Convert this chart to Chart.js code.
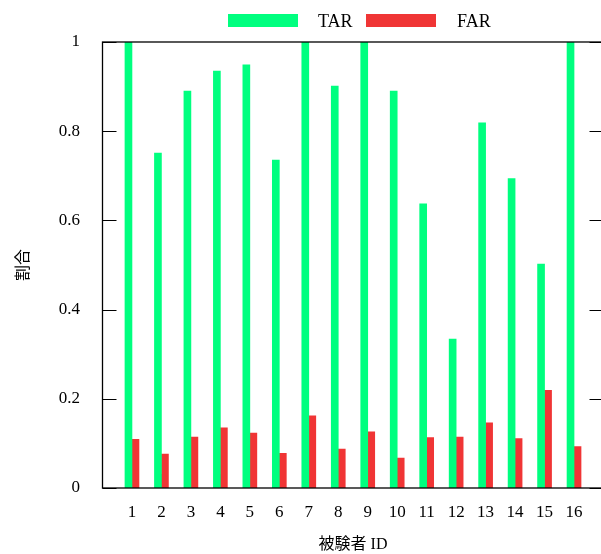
<!DOCTYPE html>
<html>
<head>
<meta charset="utf-8">
<script src="https://cdn.jsdelivr.net/npm/chart.js@4/dist/chart.umd.min.js"></script>
<style>
  html, body { margin: 0; padding: 0; background: #fff; overflow: hidden; }
  #wrap { width: 606px; height: 554px; }
</style>
</head>
<body>
<div id="wrap"><canvas id="c" width="606" height="554"></canvas></div>
<script>
const subjectIds = ['1','2','3','4','5','6','7','8','9','10','11','12','13','14','15','16'];
const tarValues = [1.0, 0.751, 0.890, 0.935, 0.949, 0.735, 1.0, 0.901, 1.0, 0.890, 0.637, 0.334, 0.819, 0.694, 0.502, 1.0];
const farValues = [0.109, 0.076, 0.114, 0.135, 0.123, 0.078, 0.162, 0.087, 0.126, 0.067, 0.113, 0.114, 0.146, 0.111, 0.219, 0.093];
const yTicks = [0, 0.2, 0.4, 0.6, 0.8, 1];
const seriesNames = ['TAR', 'FAR'];
const xTitle = '被験者 ID';
const yTitle = '割合';

const GREEN = '#00ff7f';
const RED = '#f03535';
const SERIF = "'Liberation Serif', 'Times New Roman', 'Noto Sans CJK JP', serif";

// pad the category axis so the range runs from 0 to 17 like the original
const labels = [''].concat(subjectIds, ['']);
const pad = arr => [null].concat(arr, [null]);

const frame = {
  id: 'frame',
  beforeDatasetsDraw(chart) {
    const ctx = chart.ctx, x = chart.scales.x, a = chart.chartArea;
    ctx.save();
    ctx.strokeStyle = '#000';
    ctx.lineWidth = 1;
    for (let i = 1; i <= subjectIds.length; i++) {
      const px = Math.round(x.getPixelForValue(i)) + 0.5;
      ctx.beginPath();
      ctx.moveTo(px, a.bottom);
      ctx.lineTo(px, a.bottom - 14);
      ctx.stroke();
    }
    ctx.restore();
  },
  afterDatasetsDraw(chart) {
    const ctx = chart.ctx, y = chart.scales.y, a = chart.chartArea;
    ctx.save();
    ctx.strokeStyle = '#000';
    ctx.lineWidth = 1;
    yTicks.forEach(v => {
      const py = Math.round(y.getPixelForValue(v)) + 0.5;
      ctx.beginPath();
      ctx.moveTo(a.left, py); ctx.lineTo(a.left + 14, py);
      ctx.moveTo(a.right, py); ctx.lineTo(a.right - 14, py);
      ctx.stroke();
    });
    ctx.lineWidth = 1.3;
    ctx.strokeRect(a.left, a.top, a.right - a.left, a.bottom - a.top);
    // legend
    const ds = chart.data.datasets;
    const boxX = [228, 366], textX = [318, 457];
    ctx.font = '18px ' + SERIF;
    ctx.textBaseline = 'alphabetic';
    ctx.textAlign = 'left';
    ds.forEach((d, i) => {
      ctx.fillStyle = d.backgroundColor;
      ctx.fillRect(boxX[i], 14, 70, 13);
      ctx.fillStyle = '#000';
      ctx.fillText(d.label, textX[i], 27);
    });
    ctx.restore();
  }
};

new Chart(document.getElementById('c'), {
  type: 'bar',
  data: {
    labels: labels,
    datasets: [
      { label: seriesNames[0], data: pad(tarValues), backgroundColor: GREEN, barThickness: 7 },
      { label: seriesNames[1], data: pad(farValues), backgroundColor: RED, barThickness: 7 }
    ]
  },
  options: {
    responsive: false,
    animation: false,
    devicePixelRatio: 1,
    layout: { padding: { top: 42, right: 2.5, left: 0, bottom: 0 } },
    plugins: { legend: { display: false }, tooltip: { enabled: false } },
    scales: {
      x: {
        type: 'category',
        offset: false,
        grid: { display: true, drawOnChartArea: false, drawTicks: true, tickLength: 14, color: 'rgba(0,0,0,0)' },
        border: { display: false },
        ticks: {
          color: '#000', font: { family: SERIF, size: 17 }, padding: 0,
          maxRotation: 0, autoSkip: false
        },
        title: {
          display: true, text: xTitle, color: '#000',
          font: { family: SERIF, size: 16, lineHeight: 1.1 }, padding: { top: 0, bottom: 0 }
        },
        afterFit(s) { s.height = 66; }
      },
      y: {
        min: 0, max: 1,
        grid: { display: false, drawTicks: false },
        border: { display: false },
        afterBuildTicks(s) { s.ticks = yTicks.map(v => ({ value: v })); },
        ticks: {
          color: '#000', font: { family: SERIF, size: 17 }, padding: 22.5,
          callback: v => String(+v.toFixed(1))
        },
        title: {
          display: true, text: yTitle, color: '#000',
          font: { family: SERIF, size: 16 }, padding: { top: 14, bottom: 0 }
        },
        afterFit(s) { s.width = 102.5; }
      }
    }
  },
  plugins: [frame]
});
</script>
</body>
</html>
